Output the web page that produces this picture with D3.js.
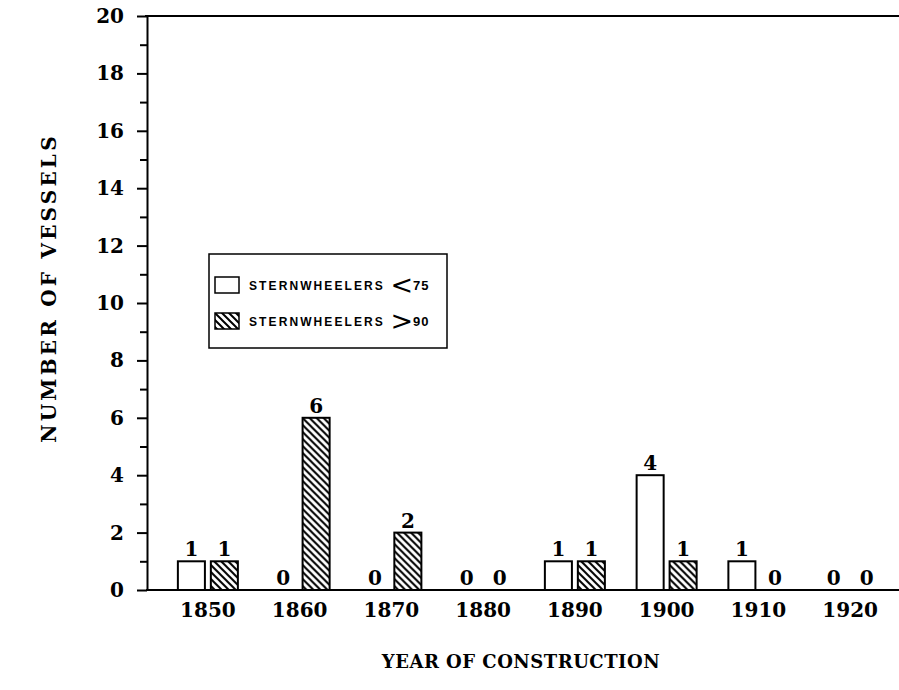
<!DOCTYPE html>
<html lang="en">
<head>
    <title>Sternwheelers by Year of Construction</title>
    <script src="https://d3js.org/d3.v7.min.js" charset="utf-8"></script>
    <style type="text/css">
        body
        {
            margin: 0;
            background-color: white;
        }
        svg
        {
            display: block;
            background-color: white;
        }
        .serif
        {
            font-family: "DejaVu Serif", serif;
            font-weight: bold;
        }
        .tick line
        {
            stroke: black;
            stroke-width: 2;
        }
        .domain
        {
            stroke: black;
            stroke-width: 2;
        }
    </style>
</head>
<body>
    <div id="chart_div"></div>
    <script>
    "use strict";

    // data
    var years = ["1850", "1860", "1870", "1880", "1890", "1900", "1910", "1920"];
    var series_keys = ["lt75", "gt90"];
    var lt75_values = [1, 0, 0, 0, 1, 4, 1, 0];
    var gt90_values = [1, 6, 2, 0, 1, 1, 0, 0];
    var y_major_ticks = [0, 2, 4, 6, 8, 10, 12, 14, 16, 18, 20];
    var y_minor_ticks = [1, 3, 5, 7, 9, 11, 13, 15, 17, 19];
    var legend_labels = ["STERNWHEELERS", "STERNWHEELERS"];
    var legend_symbols = ["<", ">"];
    var legend_numbers = ["75", "90"];

    var svg_width = 899;
    var svg_height = 690;

    var x0 = d3.scaleBand()
        .domain(years)
        .range([162, 896]);
    var x1 = d3.scaleBand()
        .domain(series_keys)
        .range([0, 60])
        .paddingInner(0.18);
    var y = d3.scaleLinear()
        .domain([0, 20])
        .range([590, 16]);

    var chart_svg = d3.select("#chart_div")
        .append("svg")
        .attr("width", svg_width)
        .attr("height", svg_height);

    var defs = chart_svg.append("defs");
    var hatch = defs.append("pattern")
        .attr("id", "hatch")
        .attr("patternUnits", "userSpaceOnUse")
        .attr("width", 7)
        .attr("height", 7);
    hatch.append("path")
        .attr("d", "M-2,-2 L9,9 M-2,5 L2,9 M5,-2 L9,2")
        .attr("stroke", "black")
        .attr("stroke-width", 2);

    var rows = years.map(function(yr, i)
    {
        return {year: yr, lt75: lt75_values[i], gt90: gt90_values[i]};
    });

    // top line and baseline
    chart_svg.append("line")
        .attr("x1", 145)
        .attr("x2", svg_width)
        .attr("y1", y(20))
        .attr("y2", y(20))
        .attr("stroke", "black")
        .attr("stroke-width", 2);
    chart_svg.append("line")
        .attr("x1", 146)
        .attr("x2", svg_width)
        .attr("y1", y(0))
        .attr("y2", y(0))
        .attr("stroke", "black")
        .attr("stroke-width", 2);

    // bars
    var groups = chart_svg.selectAll("g.year")
        .data(rows)
        .enter()
        .append("g")
        .attr("class", "year")
        .attr("transform", function(d)
        {
            return "translate(" + (x0(d.year) + x0.bandwidth() / 2 - 30) + ",0)";
        });
    var cells = groups.selectAll("g.cell")
        .data(function(d)
        {
            return series_keys.map(function(k)
            {
                return {key: k, value: d[k]};
            });
        })
        .enter()
        .append("g")
        .attr("class", "cell");
    cells.filter(function(d) { return d.value > 0; })
        .append("rect")
        .attr("x", function(d) { return x1(d.key); })
        .attr("y", function(d) { return y(d.value); })
        .attr("width", x1.bandwidth())
        .attr("height", function(d) { return y(0) - y(d.value); })
        .attr("fill", function(d) { return d.key == "gt90" ? "url(#hatch)" : "white"; })
        .attr("stroke", "black")
        .attr("stroke-width", 2);
    cells.append("text")
        .attr("class", "serif")
        .attr("x", function(d) { return x1(d.key) + x1.bandwidth() / 2; })
        .attr("y", function(d) { return y(d.value) - 5; })
        .attr("text-anchor", "middle")
        .style("font-size", "20px")
        .text(function(d) { return d.value; });

    // y axis
    var y_axis = d3.axisLeft(y)
        .tickValues(y_major_ticks)
        .tickSize(10)
        .tickSizeOuter(0)
        .tickPadding(13)
        .tickFormat(d3.format("d"));
    var y_g = chart_svg.append("g")
        .attr("transform", "translate(147,0)")
        .call(y_axis);
    y_g.selectAll("text")
        .attr("class", "serif")
        .style("font-size", "20px")
        .attr("fill", "black");
    var y_minor = d3.axisLeft(y)
        .tickValues(y_minor_ticks)
        .tickSize(7)
        .tickSizeOuter(0)
        .tickFormat("");
    chart_svg.append("g")
        .attr("transform", "translate(147,0)")
        .call(y_minor)
        .select(".domain").remove();

    // x axis labels
    var x_axis = d3.axisBottom(x0)
        .tickSize(0)
        .tickPadding(13);
    var x_g = chart_svg.append("g")
        .attr("transform", "translate(0," + y(0) + ")")
        .call(x_axis);
    x_g.select(".domain").remove();
    x_g.selectAll("text")
        .attr("class", "serif")
        .style("font-size", "20px")
        .attr("fill", "black");

    // axis titles
    chart_svg.append("text")
        .attr("class", "serif")
        .attr("x", 521)
        .attr("y", 668)
        .attr("text-anchor", "middle")
        .style("font-size", "18px")
        .style("letter-spacing", "0.5px")
        .text("YEAR OF CONSTRUCTION");
    chart_svg.append("text")
        .attr("class", "serif")
        .attr("transform", "translate(56,288) rotate(-90)")
        .attr("text-anchor", "middle")
        .style("font-size", "20px")
        .style("letter-spacing", "3.2px")
        .text("NUMBER OF VESSELS");

    // legend
    var legend = chart_svg.append("g")
        .attr("transform", "translate(209,254)");
    legend.append("rect")
        .attr("width", 238)
        .attr("height", 94)
        .attr("fill", "white")
        .attr("stroke", "black")
        .attr("stroke-width", 1.5);
    var legend_items = legend.selectAll("g.item")
        .data(series_keys)
        .enter()
        .append("g")
        .attr("class", "item")
        .attr("transform", function(d, i)
        {
            return "translate(6," + (23 + i * 36) + ")";
        });
    legend_items.append("rect")
        .attr("width", 24)
        .attr("height", 16)
        .attr("fill", function(d) { return d == "gt90" ? "url(#hatch)" : "white"; })
        .attr("stroke", "black")
        .attr("stroke-width", 1.5);
    var legend_text = legend_items.append("text")
        .attr("x", 34)
        .attr("y", 13)
        .style("font-family", "'Liberation Sans', Arial, sans-serif")
        .style("font-weight", "bold")
        .style("font-size", "12px")
        .style("letter-spacing", "2.1px");
    legend_text.append("tspan")
        .text(function(d, i) { return legend_labels[i] + " "; });
    legend_text.append("tspan")
        .style("font-family", "'DejaVu Sans', sans-serif")
        .style("font-weight", "normal")
        .style("font-size", "27px")
        .style("letter-spacing", "0px")
        .attr("dy", 4)
        .text(function(d, i) { return legend_symbols[i]; });
    legend_text.append("tspan")
        .attr("dy", -4)
        .style("font-size", "13px")
        .style("letter-spacing", "1px")
        .text(function(d, i) { return legend_numbers[i]; });
    </script>
</body>
</html>
